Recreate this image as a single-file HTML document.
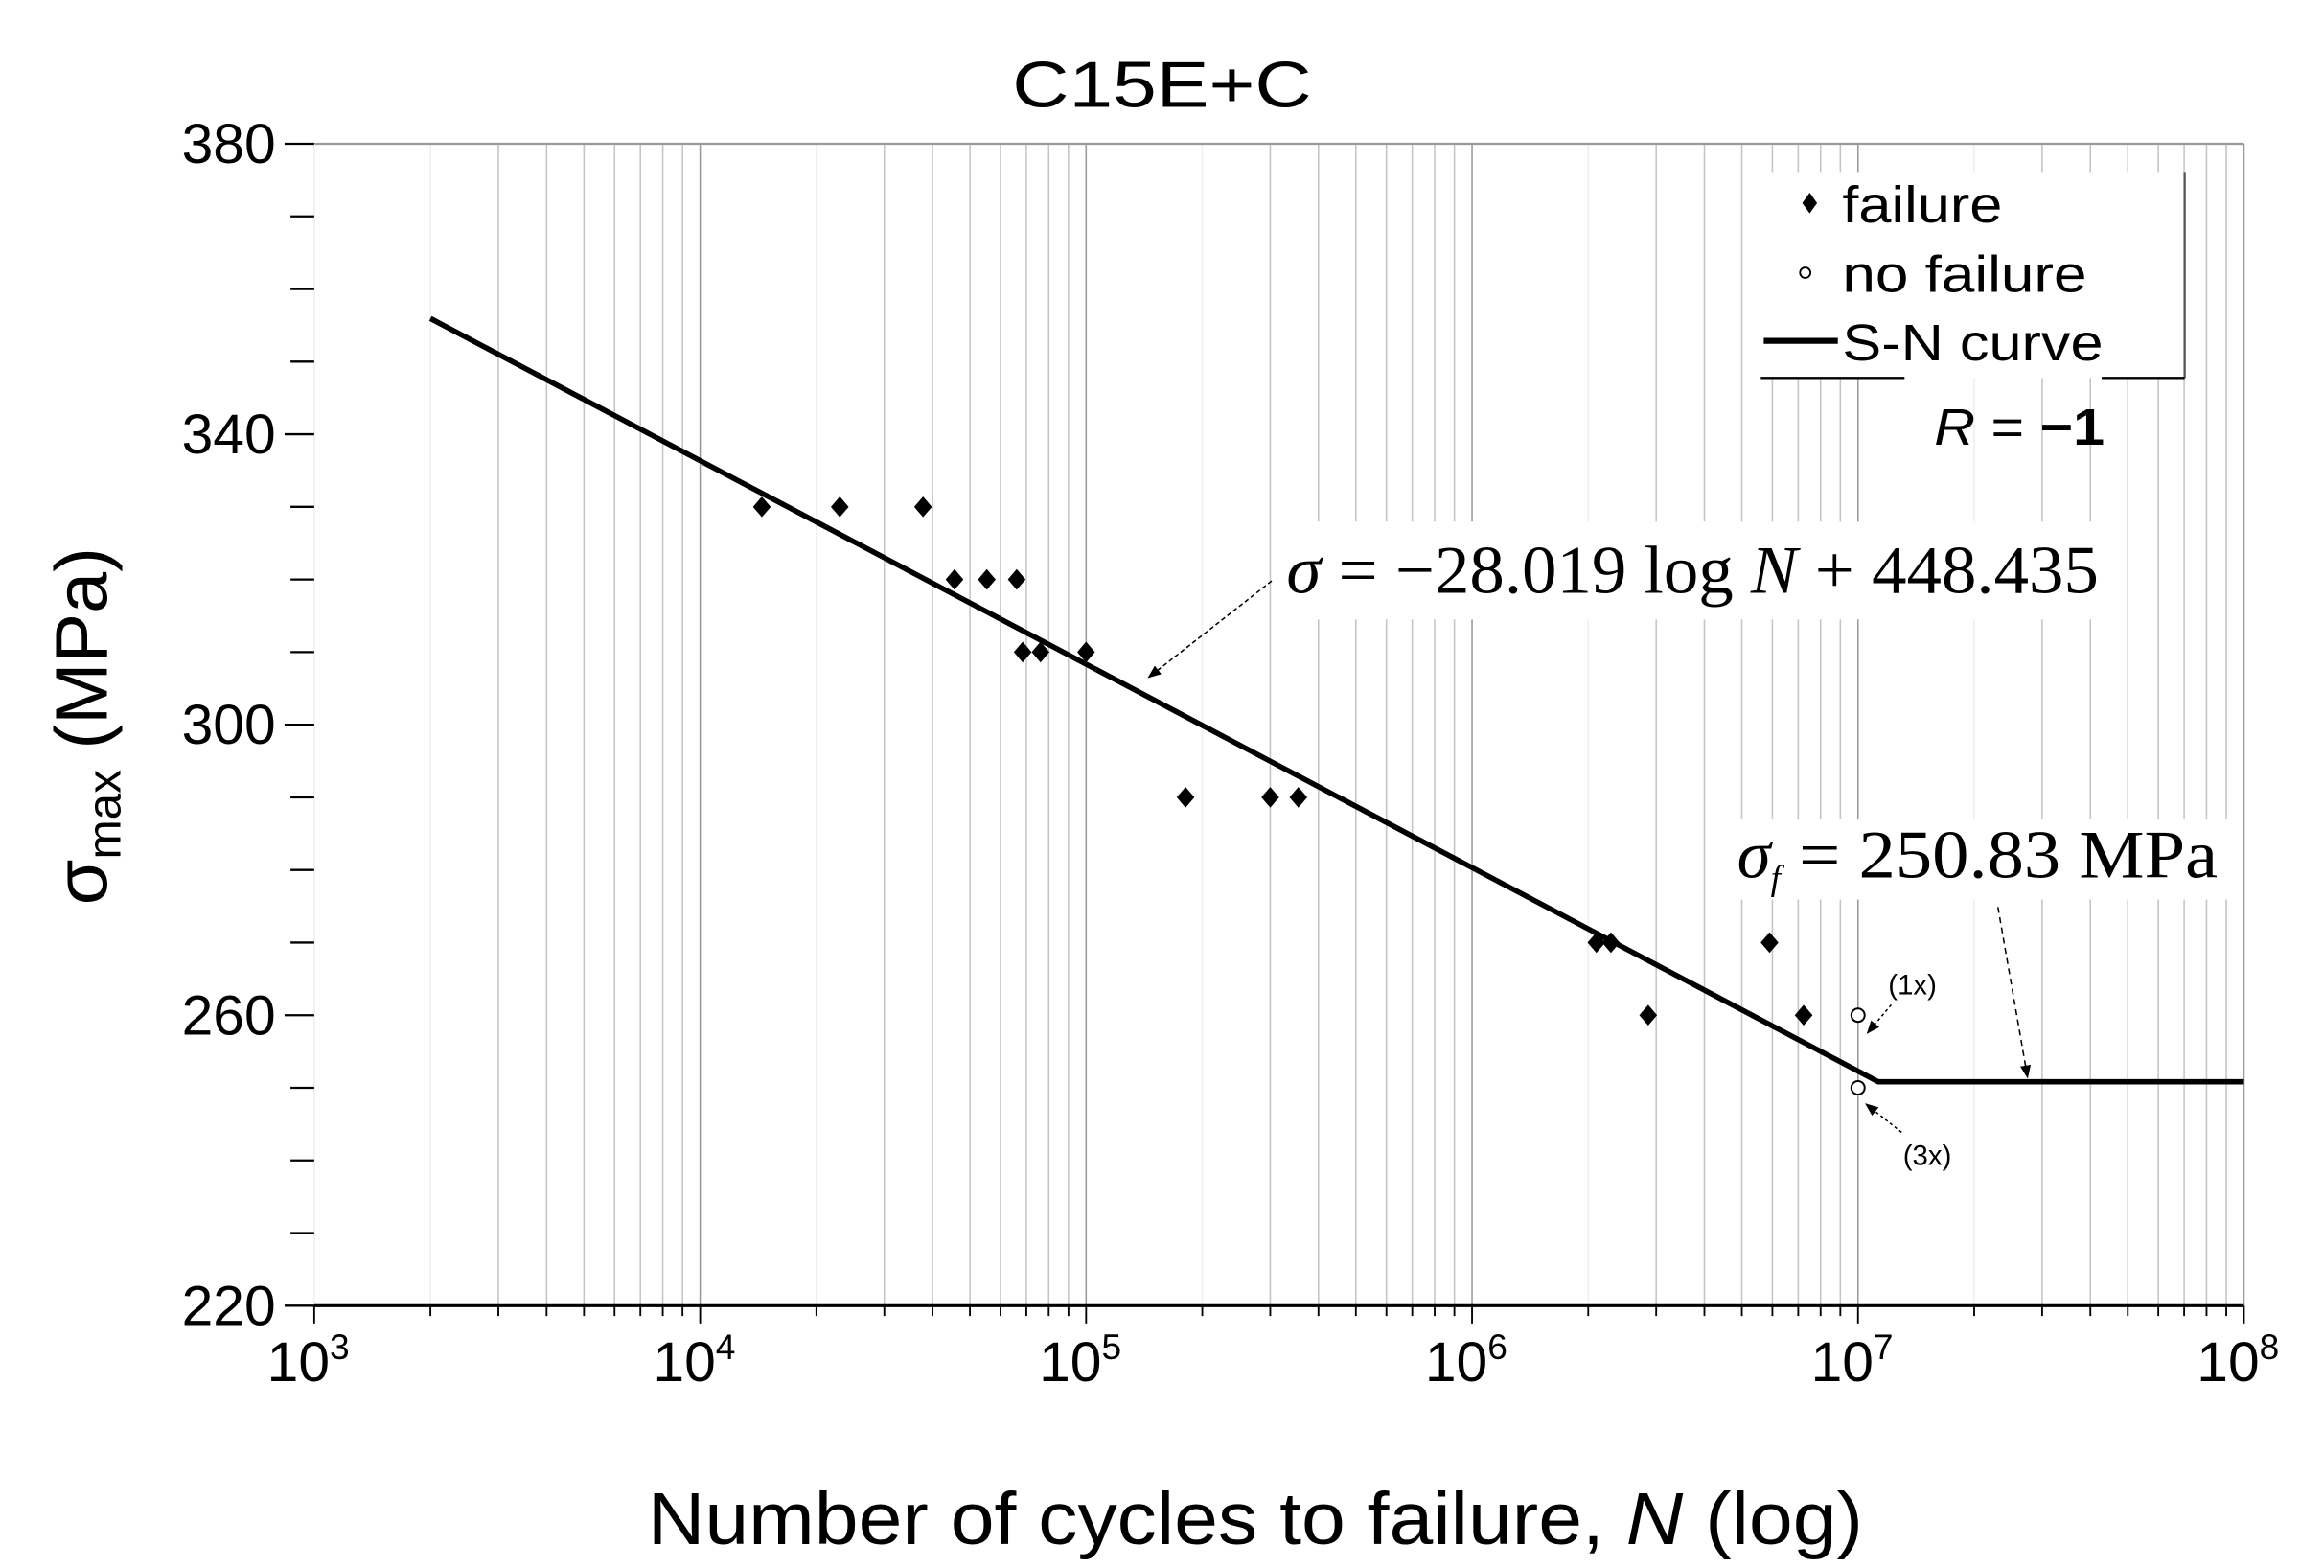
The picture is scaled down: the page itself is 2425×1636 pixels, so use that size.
<!DOCTYPE html>
<html><head><meta charset="utf-8"><style>
html,body{margin:0;padding:0;background:#fff}
svg{display:block}
text{font-family:"Liberation Sans",sans-serif;fill:#000}
.serif{font-family:"Liberation Serif",serif}
</style></head><body>
<svg id="chart" width="2425" height="1636" viewBox="0 0 1568 1058" preserveAspectRatio="none" xmlns="http://www.w3.org/2000/svg">
<defs>
<marker id="ah" viewBox="0 0 10 10" refX="9" refY="5" markerWidth="9" markerHeight="9" orient="auto"><path d="M0,1 L10,5 L0,9 Z" fill="#000"/></marker>
</defs>
<g id="grid"></g>
<g id="axes"></g>
<g id="series"></g>
<text x="784" y="72" font-size="44" text-anchor="middle" textLength="202" lengthAdjust="spacingAndGlyphs">C15E+C</text>
<text x="437" y="1042" font-size="50" textLength="820" lengthAdjust="spacingAndGlyphs">Number of cycles to failure, <tspan font-style="italic">N</tspan> (log)</text>
<text transform="translate(72,490) rotate(-90)" font-size="50" text-anchor="middle">σ<tspan font-size="32" dy="9">max</tspan><tspan dy="-9"> (MPa)</tspan></text>
<g>
<rect x="1186" y="116" width="288" height="139" fill="#fff"/>
<line x1="1474" y1="116" x2="1474" y2="255" stroke="#555" stroke-width="1.5"/>
<line x1="1188" y1="255" x2="1285" y2="255" stroke="#000" stroke-width="1.5"/>
<line x1="1418" y1="255" x2="1474" y2="255" stroke="#000" stroke-width="1.5"/>
<path d="M1221,130 L1226,137 L1221,144 L1216,137 Z" fill="#000"/>
<text x="1243" y="150" font-size="35" textLength="108" lengthAdjust="spacingAndGlyphs">failure</text>
<circle cx="1218" cy="184" r="3.5" fill="#fff" stroke="#000" stroke-width="1.2"/>
<text x="1243" y="197" font-size="35" textLength="165" lengthAdjust="spacingAndGlyphs">no failure</text>
<line x1="1190" y1="230" x2="1240" y2="230" stroke="#000" stroke-width="4"/>
<text x="1243" y="243" font-size="35" textLength="176" lengthAdjust="spacingAndGlyphs">S-N curve</text>
<text x="1305" y="300" font-size="35" textLength="115" lengthAdjust="spacingAndGlyphs"><tspan font-style="italic">R</tspan> = <tspan font-weight="bold">−1</tspan></text>
</g>
<g>
<rect x="858" y="352" width="564" height="66" fill="#fff"/>
<text class="serif" x="868" y="400" font-size="46" textLength="548" lengthAdjust="spacingAndGlyphs"><tspan font-style="italic">σ</tspan> = −28.019 log <tspan font-style="italic">N</tspan> + 448.435</text>
<line x1="858" y1="392" x2="775" y2="457" stroke="#000" stroke-width="1" stroke-dasharray="3,2" marker-end="url(#ah)"/>
</g>
<g>
<rect x="1165" y="553" width="340" height="54" fill="#fff"/>
<text class="serif" x="1172" y="592" font-size="46"><tspan font-style="italic">σ</tspan><tspan font-size="24" dy="8" font-style="italic">f</tspan><tspan dy="-8" textLength="295" lengthAdjust="spacingAndGlyphs"> = 250.83 MPa</tspan></text>
<line x1="1348" y1="612" x2="1368" y2="727" stroke="#000" stroke-width="1" stroke-dasharray="4,3" marker-end="url(#ah)"/>
</g>
<text x="1274" y="671" font-size="19">(1x)</text>
<line x1="1276" y1="678" x2="1260" y2="697" stroke="#000" stroke-width="1" stroke-dasharray="2,2" marker-end="url(#ah)"/>
<text x="1284" y="786" font-size="19">(3x)</text>
<line x1="1283" y1="764" x2="1259" y2="745" stroke="#000" stroke-width="1" stroke-dasharray="2,2" marker-end="url(#ah)"/>
</svg>
<script>
const xTickLabels = ["3","4","5","6","7","8"];
const yTicks = [220, 260, 300, 340, 380];
const failureN = [14450, 23000, 37800, 45600, 55300, 66100, 68500, 76200, 100000, 181000, 300000, 354800, 2100000, 2290000, 2860000, 5900000, 7230000];
const failureS = [330, 330, 330, 320, 320, 320, 310, 310, 310, 290, 290, 290, 270, 270, 260, 270, 260];
const noFailN = [10000000, 10000000];
const noFailS = [260, 250];
const curveSlope = -28.019;
const curveIntercept = 448.435;
const fatigueLimit = 250.83;
const curveStartN = 2000;
const curveEndN = 100000000;

const NS = "http://www.w3.org/2000/svg";
const L = 212, R = 1514, T = 97, B = 881;
const xMinLog = 3, xMaxLog = 8, yMin = 220, yMax = 380;
function xs(n){ return L + (Math.log10(n) - xMinLog) / (xMaxLog - xMinLog) * (R - L); }
function ys(v){ return B - (v - yMin) / (yMax - yMin) * (B - T); }
function mk(tag, attrs, parent){ const e = document.createElementNS(NS, tag); for (const k in attrs) e.setAttribute(k, attrs[k]); parent.appendChild(e); return e; }
const grid = document.getElementById('grid'), axes = document.getElementById('axes'), series = document.getElementById('series');

for (let d = xMinLog; d <= xMaxLog; d++) {
  for (let m = 1; m <= 9; m++) {
    if (d === xMaxLog && m > 1) break;
    const x = xs(m * Math.pow(10, d));
    if (!(d === xMinLog && m === 1)) {
      const g = mk('line', {x1:x, y1:T, x2:x, y2:B, stroke: m === 1 ? '#999' : (m === 2 ? '#eee' : '#c4c4c4'), 'stroke-width': 1}, grid);
      
      
    }
    const t = mk('line', {x1:x, y1:B, x2:x, y2:B + (m === 1 ? 12 : 7), stroke:'#000', 'stroke-width':1.2}, axes);
    
    
  }
}
xTickLabels.forEach(function(p){
  const x = xs(Math.pow(10, +p));
  const tx = mk('text', {x:x - 4, y:932, 'font-size':38, 'text-anchor':'middle'}, axes);
  
  
  tx.textContent = '10';
  const sp = mk('tspan', {'font-size':24, dy:-15}, tx);
  sp.textContent = p;
});
mk('line', {x1:L, y1:T, x2:R, y2:T, stroke:'#999', 'stroke-width':1.5}, axes);
mk('line', {x1:L, y1:T, x2:L, y2:B, stroke:'#eee', 'stroke-width':1}, axes);
mk('line', {x1:L, y1:B, x2:R, y2:B, stroke:'#000', 'stroke-width':2}, axes);
for (let v = yMin; v <= yMax; v += 10) {
  const y = ys(v);
  const major = yTicks.indexOf(v) >= 0;
  const t = mk('line', {x1: major ? L - 20 : L - 16, y1:y, x2:L, y2:y, stroke:'#000', 'stroke-width':1.5}, axes);
  
  
}
yTicks.forEach(function(v){
  const tx = mk('text', {x:186, y:ys(v) + 13, 'font-size':38, 'text-anchor':'end'}, axes);
  
  
  tx.textContent = v;
});
const kneeN = Math.pow(10, (fatigueLimit - curveIntercept) / curveSlope);
const pts = [[curveStartN, curveIntercept + curveSlope * Math.log10(curveStartN)], [kneeN, fatigueLimit], [curveEndN, fatigueLimit]];
const line = mk('polyline', {points: pts.map(p => xs(p[0]) + ',' + ys(p[1])).join(' '), fill:'none', stroke:'#000', 'stroke-width':3.6}, series);


failureN.forEach(function(n, i){
  const x = xs(n), y = ys(failureS[i]);
  const d = mk('path', {d:'M' + x + ',' + (y - 7) + ' L' + (x + 6) + ',' + y + ' L' + x + ',' + (y + 7) + ' L' + (x - 6) + ',' + y + ' Z', fill:'#000'}, series);
  
  
});
noFailN.forEach(function(n, i){
  const c = mk('circle', {cx:xs(n), cy:ys(noFailS[i]), r:4.5, fill:'#fff', stroke:'#000', 'stroke-width':1.3}, series);
  
  
});
</script>
</body></html>
